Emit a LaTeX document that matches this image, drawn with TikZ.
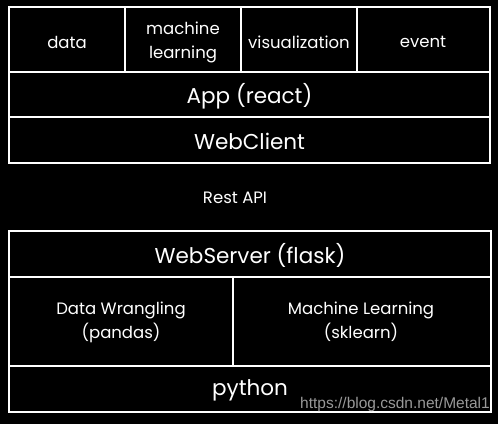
\documentclass[tikz,border=0pt]{standalone}
\usepackage{fontspec}
\setmainfont{Poppins}
\newfontfamily\wmfont{Liberation Sans}
\begin{document}
\begin{tikzpicture}[x=1pt,y=-1pt,
  cell/.style={draw=white,line width=1.6pt},
  small/.style={text=white,font=\fontsize{16.5}{24}\selectfont,align=center},
  big/.style={text=white,font=\fontsize{21.5}{24}\selectfont,align=center}]
\fill[black] (0,0) rectangle (498,424);
\useasboundingbox (0,0) rectangle (498,424);
% top group
\draw[cell] (9,7) rectangle (490,72);
\draw[cell] (9,72) rectangle (490,117);
\draw[cell] (9,117) rectangle (490,163);
\draw[cell] (125,7) -- (125,72);
\draw[cell] (241,7) -- (241,72);
\draw[cell] (357,7) -- (357,72);
\node[small] (data) at (67,42) {data};
\node[small] (ml) at (183,42) {machine\\learning};
\node[small] (vis) at (299,42) {visualization};
\node[small] (ev) at (423,42) {event};
\node[big] (app) at (249.5,96) {App (react)};
\node[big] (wc) at (249.5,141) {WebClient};
\node[small] (rest) at (235,198) {Rest API};
% bottom group
\draw[cell] (9,231) rectangle (491,277);
\draw[cell] (9,277) rectangle (491,366);
\draw[cell] (9,366) rectangle (491,412);
\draw[cell] (233,277) -- (233,366);
\node[big] (ws) at (250,255) {WebServer (flask)};
\node[small] (dw) at (121,322) {Data Wrangling\\(pandas)};
\node[small] (mlb) at (361,322) {Machine Learning\\(sklearn)};
\node[big] (py) at (250,390) {python};
\node[text=gray!80,font=\wmfont\fontsize{15.5}{17}\selectfont,anchor=east,inner sep=0pt] (wm) at (490,404) {https://blog.csdn.net/Metal1};
\end{tikzpicture}
\end{document}
